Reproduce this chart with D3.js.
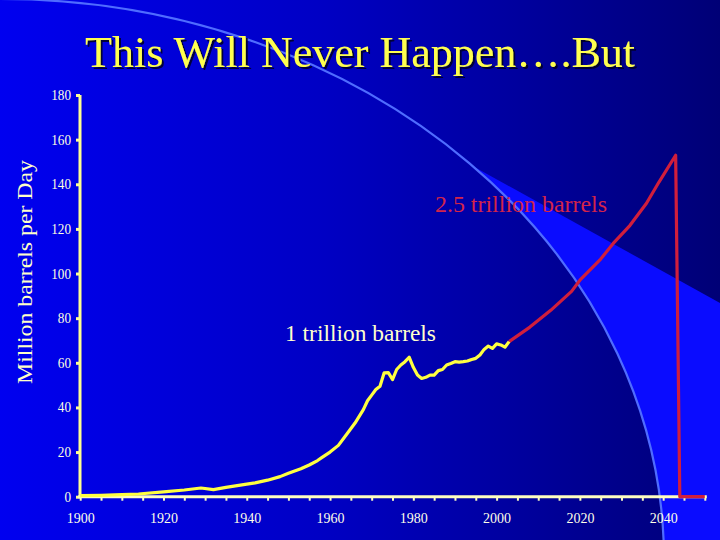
<!DOCTYPE html>
<html>
<head>
<meta charset="utf-8">
<script src="https://cdn.jsdelivr.net/npm/d3@7"></script>
<style>
  html, body { margin: 0; padding: 0; background: #000080; }
  svg { display: block; }
</style>
</head>
<body>
<script>
// ---- data ----
const histYears  = [1900,1905,1910,1914,1920,1925,1929,1932,1935,1940,1942,1945,1948,1950,1953,1955,1957,1958,1960,1962,1964,1966,1968,1969,1970,1971,1972,1973,1974,1975,1976,1977,1978,1979,1980,1981,1982,1983,1984,1985,1986,1987,1988,1989,1990,1991,1992,1993,1994,1995,1996,1997,1998,1999,2000,2001,2002,2003];
const histValues = [0.5,0.6,0.9,1.2,2.2,3.0,3.9,3.2,4.2,5.6,6.2,7.4,9.0,10.5,12.5,14.2,16.2,17.5,20.0,23,28,33,39,43,45.5,48,49.5,55.5,55.6,52.5,57,59,60.5,62.5,58,54.5,53,53.5,54.5,54.5,56.5,57,59,59.7,60.5,60.3,60.5,60.8,61.5,62,63.5,66,67.5,66.5,68.5,68,67,69.5];
const projYears  = [2003,2008,2013,2018,2020,2025,2028,2032,2036,2039,2043,2044,2050];
const projValues = [69.5,76,83.5,92,97,106.5,113.5,121.5,131.5,141,153,0,0];
const yTicks = [0,20,40,60,80,100,120,140,160,180];
const xLabelYears = [1900,1920,1940,1960,1980,2000,2020,2040];
const title = "This Will Never Happen….But";
const yTitle = "Million barrels per Day";
const label1 = "1 trillion barrels";
const label2 = "2.5 trillion barrels";

const W = 720, H = 540;
const svg = d3.select("body").append("svg").attr("width", W).attr("height", H);
const defs = svg.append("defs");
const grad = defs.append("linearGradient").attr("id", "bg")
  .attr("gradientUnits", "userSpaceOnUse").attr("x1", 0).attr("y1", 0).attr("x2", W).attr("y2", 0);
grad.append("stop").attr("offset", "0%").attr("stop-color", "#0000f0");
grad.append("stop").attr("offset", "45%").attr("stop-color", "#0000c4");
grad.append("stop").attr("offset", "100%").attr("stop-color", "#000076");
const shadow = defs.append("filter").attr("id", "shadow").attr("x", "-5%").attr("y", "-20%").attr("width", "110%").attr("height", "140%");
shadow.append("feDropShadow").attr("dx", 2).attr("dy", 2).attr("stdDeviation", 0.6).attr("flood-color", "#00002a").attr("flood-opacity", 0.9);

// background
svg.append("rect").attr("width", W).attr("height", H).attr("fill", "url(#bg)");
// bright band below the diagonal, outside the arc
const slope = (303 - 170) / (720 - 480);
svg.append("polygon")
  .attr("points", [[455, 170 - 25 * slope], [W, 170 + 240 * slope], [W, H], [455, H]].map(p => p.join(",")).join(" "))
  .attr("fill", "#0a0cff");
svg.append("ellipse").attr("cx", 0).attr("cy", 560).attr("rx", 664).attr("ry", 561)
  .attr("fill", "url(#bg)").attr("stroke", "#4f6cff").attr("stroke-width", 2.2);

// scales
const x = d3.scaleLinear().domain([1900, 2050]).range([80.2, 704.8]);
const y = d3.scaleLinear().domain([0, 180]).range([496.7, 95]);

// title
svg.append("text").attr("x", 85).attr("y", 67).text(title)
  .attr("font-family", "Liberation Serif, Times New Roman, serif").attr("font-size", 45)
  .attr("textLength", 550).attr("lengthAdjust", "spacingAndGlyphs").attr("fill", "#ffff50")
  .attr("filter", "url(#shadow)");

// y axis title
svg.append("text").attr("transform", "translate(32,272) rotate(-90)")
  .attr("text-anchor", "middle").text(yTitle)
  .attr("font-family", "Liberation Serif, Times New Roman, serif").attr("font-size", 21)
  .attr("textLength", 224).attr("lengthAdjust", "spacingAndGlyphs").attr("fill", "#ffffc8");

// y axis
const yAxis = svg.append("g").attr("transform", "translate(80,0)")
  .call(d3.axisLeft(y).tickValues(yTicks).tickSize(4).tickPadding(5).tickFormat(d3.format("d")));
yAxis.select(".domain").attr("stroke", "#ffff90").attr("stroke-width", 3).attr("d", `M0,${y(180)}V${y(0)}`);
yAxis.selectAll(".tick line").attr("stroke", "#ffff90").attr("stroke-width", 3);
yAxis.selectAll(".tick text").attr("fill", "#ffffe0")
  .attr("font-family", "Liberation Serif, Times New Roman, serif").attr("font-size", 14)
  .attr("textLength", d => String(d).length * 6.6).attr("lengthAdjust", "spacingAndGlyphs");

// x axis
const xAxis = svg.append("g").attr("transform", `translate(0,${y(0)})`)
  .call(d3.axisBottom(x).tickValues(d3.range(1900, 2051, 5)).tickSize(4).tickPadding(12)
    .tickFormat(d => xLabelYears.includes(d) ? String(d) : ""));
xAxis.select(".domain").attr("stroke", "#ffffc0").attr("stroke-width", 3).attr("d", `M${x(1900) - 2},0H${x(2050) + 2}`);
xAxis.selectAll(".tick line").attr("stroke", "#ffffc0").attr("stroke-width", 2);
xAxis.selectAll(".tick text").attr("fill", "#ffffe8")
  .attr("font-family", "Liberation Serif, Times New Roman, serif").attr("font-size", 15)
  .attr("textLength", d => xLabelYears.includes(d) ? 28 : null).attr("lengthAdjust", "spacingAndGlyphs");

// lines
const line = d3.line().x(d => x(d[0])).y(d => y(d[1]));
svg.append("path").datum(projYears.map((v, i) => [v, projValues[i]]))
  .attr("d", line).attr("fill", "none").attr("stroke", "#d01e3c").attr("stroke-width", 3.2).attr("stroke-linejoin", "round");
svg.append("path").datum(histYears.map((v, i) => [v, histValues[i]]))
  .attr("d", line).attr("fill", "none").attr("stroke", "#ffff40").attr("stroke-width", 3.2).attr("stroke-linejoin", "round");

// annotations
svg.append("text").attr("x", 285).attr("y", 341).text(label1)
  .attr("font-family", "Liberation Serif, Times New Roman, serif").attr("font-size", 24)
  .attr("textLength", 151).attr("lengthAdjust", "spacingAndGlyphs").attr("fill", "#ffffcc");
svg.append("text").attr("x", 435).attr("y", 212).text(label2)
  .attr("font-family", "Liberation Serif, Times New Roman, serif").attr("font-size", 24)
  .attr("textLength", 172).attr("lengthAdjust", "spacingAndGlyphs").attr("fill", "#d4244a");
</script>
</body>
</html>
